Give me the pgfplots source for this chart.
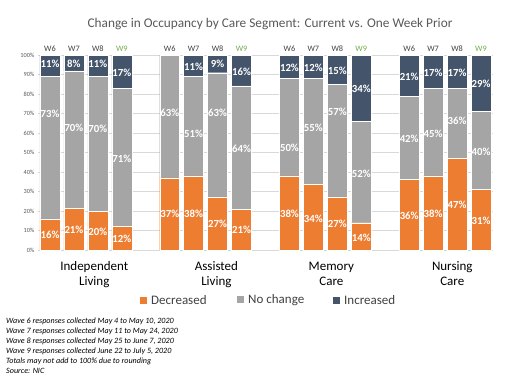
\documentclass[border=0pt]{standalone}
\usepackage{pgfplots}
\pgfplotsset{compat=1.18}
\usepackage{pgfplotstable}
\usepackage{fontspec}
\setmainfont{Carlito}
\definecolor{cDec}{HTML}{ED7D31}
\definecolor{cNo}{HTML}{A5A5A5}
\definecolor{cInc}{HTML}{44546A}
\definecolor{cGreen}{HTML}{70AD47}
\definecolor{cTxt}{HTML}{595959}
\definecolor{cDark}{HTML}{404040}
\definecolor{cGrid}{HTML}{D9D9D9}

% normalised shares (bars are 100% stacked)
\pgfplotstableread{
x  dec    noc    inc
0  16     73     11
1  21.21  70.71  8.08
2  19.80  69.31  10.89
3  12     71     17
5  37     63     0
6  38     51     11
7  27.27  63.64  9.09
8  20.79  63.37  15.84
10 38     50     12
11 33.66  54.46  11.88
12 27.27  57.58  15.15
13 14     52     34
15 36.36  42.42  21.21
16 38     45     17
17 47     36     17
18 31     40     29
}\datatable

% data label list: x, label y position, text
\newcommand{\labellist}{%
\lbl{0}{95.4}{11}\lbl{0}{69.7}{73}\lbl{0}{7.7}{16}%
\lbl{1}{95.7}{8}\lbl{1}{62.4}{70}\lbl{1}{10.1}{21}%
\lbl{2}{95.4}{11}\lbl{2}{61.9}{70}\lbl{2}{9.4}{20}%
\lbl{3}{91.1}{17}\lbl{3}{47}{71}\lbl{3}{5.8}{12}%
\lbl{5}{70.6}{63}\lbl{5}{18.3}{37}%
\lbl{6}{94}{11}\lbl{6}{59.8}{51}\lbl{6}{18.8}{38}%
\lbl{7}{95.4}{9}\lbl{7}{70.1}{63}\lbl{7}{13.3}{27}%
\lbl{8}{91.5}{16}\lbl{8}{51.8}{64}\lbl{8}{10.1}{21}%
\lbl{10}{93.2}{12}\lbl{10}{52.5}{50}\lbl{10}{18.6}{38}%
\lbl{11}{93.2}{12}\lbl{11}{62.9}{55}\lbl{11}{16.2}{34}%
\lbl{12}{91.8}{15}\lbl{12}{70.9}{57}\lbl{12}{13.3}{27}%
\lbl{13}{82.4}{34}\lbl{13}{39.3}{52}\lbl{13}{6.5}{14}%
\lbl{15}{88.9}{21}\lbl{15}{56.9}{42}\lbl{15}{17.6}{36}%
\lbl{16}{91.1}{17}\lbl{16}{59.8}{45}\lbl{16}{18.6}{38}%
\lbl{17}{91.1}{17}\lbl{17}{66}{36}\lbl{17}{23.2}{47}%
\lbl{18}{85.1}{29}\lbl{18}{50.4}{40}\lbl{18}{15.2}{31}%
}
\newcommand{\lblcoord}[3]{\coordinate (L#1-#3) at (axis cs:#1,#2);}
\newcommand{\lbldraw}[3]{\node[font=\fontsize{10.8}{12}\selectfont\bfseries, text=white, inner sep=0pt] at (L#1-#3) {#3\%};}

\newcommand{\wv}[2]{\node[font=\fontsize{8.3}{9}\selectfont, text=#2, anchor=base] at (axis cs:#1,100) [yshift=4pt] {W\pgfmathparse{int(mod(#1,5)+6)}\pgfmathresult};}
\newcommand{\grp}[3]{%
  \node[font=\fontsize{13}{15}\selectfont, text=black, anchor=base] at (axis cs:#1,0) [yshift=-20pt] {#2};
  \node[font=\fontsize{13}{15}\selectfont, text=black, anchor=base] at (axis cs:#1,0) [yshift=-35pt] {#3};}
\newcommand{\leg}[3]{\node[anchor=west, inner sep=0pt, font=\fontsize{13}{15}\selectfont, text=cDark] at (#1,76) {\textcolor{#2}{\rule[0pt]{7pt}{7pt}}\hspace{4pt}#3};}

\begin{document}
\begin{tikzpicture}[x=1pt,y=1pt]
\path[use as bounding box] (0,0) rectangle (507,376);
\begin{axis}[
  at={(38pt,126pt)}, anchor=south west,
  width=455pt, height=195pt, scale only axis,
  ybar stacked, bar width=0.833,
  xmin=-0.5, xmax=18.5, ymin=0, ymax=100,
  ytick={0,10,...,100},
  yticklabel={\pgfmathprintnumber{\tick}\%},
  xtick=\empty,
  ymajorgrids, grid style={cGrid, line width=0.6pt},
  axis line style={draw=none}, major tick length=0pt,
  tick label style={font=\fontsize{6.3}{7}\selectfont, text=cTxt},
  /pgf/number format/assume math mode=true,
  clip=false,
]
\addplot[fill=cDec, draw=white, line width=0.4pt] table[x=x, y=dec] {\datatable};
\addplot[fill=cNo, draw=white, line width=0.4pt] table[x=x, y=noc] {\datatable};
\addplot[fill=cInc, draw=white, line width=0.4pt] table[x=x, y=inc] {\datatable};

% wave labels
\wv{0}{cDark}\wv{1}{cDark}\wv{2}{cDark}\wv{3}{cGreen}
\wv{5}{cDark}\wv{6}{cDark}\wv{7}{cDark}\wv{8}{cGreen}
\wv{10}{cDark}\wv{11}{cDark}\wv{12}{cDark}\wv{13}{cGreen}
\wv{15}{cDark}\wv{16}{cDark}\wv{17}{cDark}\wv{18}{cGreen}

% group labels
\grp{1.85}{Independent}{Living}
\grp{6.95}{Assisted}{Living}
\grp{11.75}{Memory}{Care}
\grp{16.8}{Nursing}{Care}

% data label anchors
\let\lbl\lblcoord
\labellist
\end{axis}
\let\lbl\lbldraw
\labellist
\node[font=\fontsize{13.3}{15}\selectfont, text=cTxt] at (270,352) {Change in Occupancy by Care Segment: Current vs. One Week Prior};
\leg{140}{cDec}{Decreased}
\leg{237}{cNo}{No change}
\leg{333}{cInc}{Increased}
\node[anchor=north west, align=left, inner sep=0pt, text=black,
      font=\fontsize{8.1}{9.9}\selectfont\itshape] at (6,58)
  {Wave 6 responses collected May 4 to May 10, 2020\\
   Wave 7 responses collected May 11 to May 24, 2020\\
   Wave 8 responses collected May 25 to June 7, 2020\\
   Wave 9 responses collected June 22 to July 5, 2020\\
   Totals may not add to 100\% due to rounding\\
   Source: NIC};
\end{tikzpicture}
\end{document}
